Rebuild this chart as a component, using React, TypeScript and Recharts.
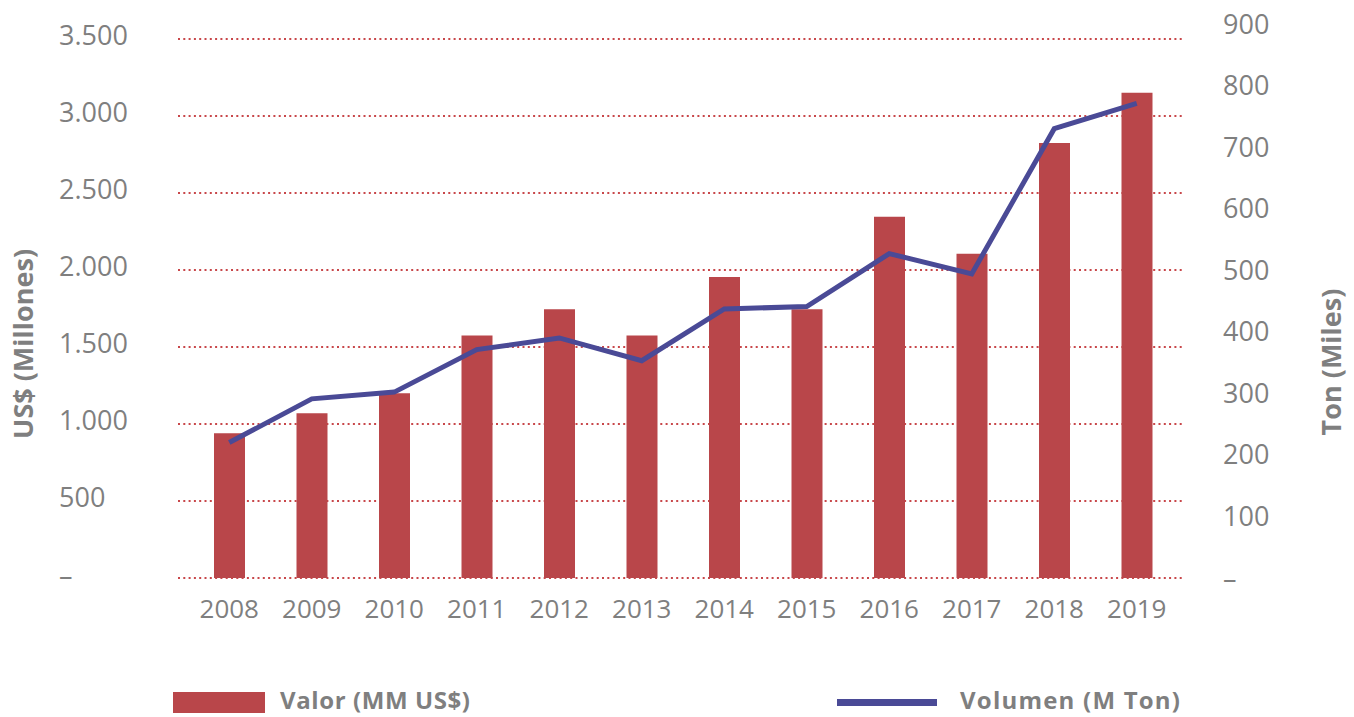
import React from "react";
import { ComposedChart, Bar, Line, XAxis, YAxis, CartesianGrid } from "recharts";

const years = ["2008", "2009", "2010", "2011", "2012", "2013", "2014", "2015", "2016", "2017", "2018", "2019"];
const valor = [940, 1070, 1200, 1575, 1745, 1575, 1955, 1745, 2345, 2105, 2825, 3150];
const volumen = [220, 291, 302, 371, 390, 353, 437, 441, 527, 494, 730, 771];
const leftTicks = [0, 500, 1000, 1500, 2000, 2500, 3000, 3500];
const rightTicks = [0, 100, 200, 300, 400, 500, 600, 700, 800, 900];

const data = years.map((y, i) => ({ year: y, valor: valor[i], volumen: volumen[i] }));

const GRAY = "#7f7f7f";
const RED = "#b9464a";
const BLUE = "#4a4a96";
const FONT = "'Open Sans', sans-serif";

const fmtThousands = (v: number) => (v === 0 ? "–" : v.toLocaleString("de-DE"));

function LeftTick(props: any) {
  const { y, payload } = props;
  return (
    <text x={59} y={y - 4} textAnchor="start" dominantBaseline="central" fill={GRAY} fontSize={27} fontFamily={FONT}>
      {fmtThousands(payload.value)}
    </text>
  );
}

function RightTick(props: any) {
  const { y, payload } = props;
  return (
    <text x={1223} y={y - 1} textAnchor="start" dominantBaseline="central" fill={GRAY} fontSize={27} fontFamily={FONT}>
      {payload.value === 0 ? "–" : payload.value}
    </text>
  );
}

function YearTick(props: any) {
  const { x, payload } = props;
  return (
    <text x={x} y={608} textAnchor="middle" dominantBaseline="central" fill={GRAY} fontSize={26} fontFamily={FONT}>
      {payload.value}
    </text>
  );
}

function LegendBox() {
  const txt = { fill: GRAY, fontSize: 24, fontWeight: 700, fontFamily: FONT } as const;
  return (
    <svg width={1354} height={37} style={{ position: "absolute", left: 0, top: 680, display: "block" }}>
      <rect x={173} y={12} width={92} height={21} fill={RED} />
      <text x={280} y={19} dominantBaseline="central" textLength={190} {...txt}>Valor (MM US$)</text>
      <rect x={837} y={19} width={100} height={7} fill={BLUE} />
      <text x={960} y={19} dominantBaseline="central" textLength={220} {...txt}>Volumen (M Ton)</text>
    </svg>
  );
}

export default function App() {
  return (
    <div style={{ position: "absolute", left: 0, top: 0, width: 1354, height: 717, background: "#fff", overflow: "hidden" }}>
      <ComposedChart width={1354} height={717} data={data} margin={{ top: 24, right: 0, bottom: 0, left: 0 }}>
        <CartesianGrid
          yAxisId="left"
          vertical={false}
          horizontalValues={leftTicks}
          stroke="#c8474a"
          strokeWidth={2}
          strokeDasharray="2 3.3"
        />
        <XAxis
          dataKey="year"
          axisLine={false}
          tickLine={false}
          height={139}
          padding={{ left: 10, right: 4 }}
          tick={<YearTick />}
          interval={0}
        />
        <YAxis
          yAxisId="left"
          width={178}
          domain={[0, 3597]}
          ticks={leftTicks}
          axisLine={false}
          tickLine={false}
          tick={<LeftTick />}
          label={{
            content: () => (
              <text x={22} y={344} transform="rotate(-90 22 344)" textAnchor="middle" dominantBaseline="central" fill={GRAY} fontSize={27} fontWeight={700} fontFamily={FONT}>
                US$ (Millones)
              </text>
            ),
          }}
        />
        <YAxis
          yAxisId="right"
          orientation="right"
          width={172}
          domain={[0, 900]}
          ticks={rightTicks}
          axisLine={false}
          tickLine={false}
          tick={<RightTick />}
          label={{
            content: () => (
              <text x={1330} y={362} transform="rotate(-90 1330 362)" textAnchor="middle" dominantBaseline="central" fill={GRAY} fontSize={27} fontWeight={700} fontFamily={FONT}>
                Ton (Miles)
              </text>
            ),
          }}
        />
        <Bar yAxisId="left" dataKey="valor" name="Valor (MM US$)" fill={RED} barSize={31} isAnimationActive={false} />
        <Line
          yAxisId="right"
          dataKey="volumen"
          name="Volumen (M Ton)"
          type="linear"
          stroke={BLUE}
          strokeWidth={5}
          dot={false}
          activeDot={false}
          isAnimationActive={false}
        />
      </ComposedChart>
      <LegendBox />
    </div>
  );
}
